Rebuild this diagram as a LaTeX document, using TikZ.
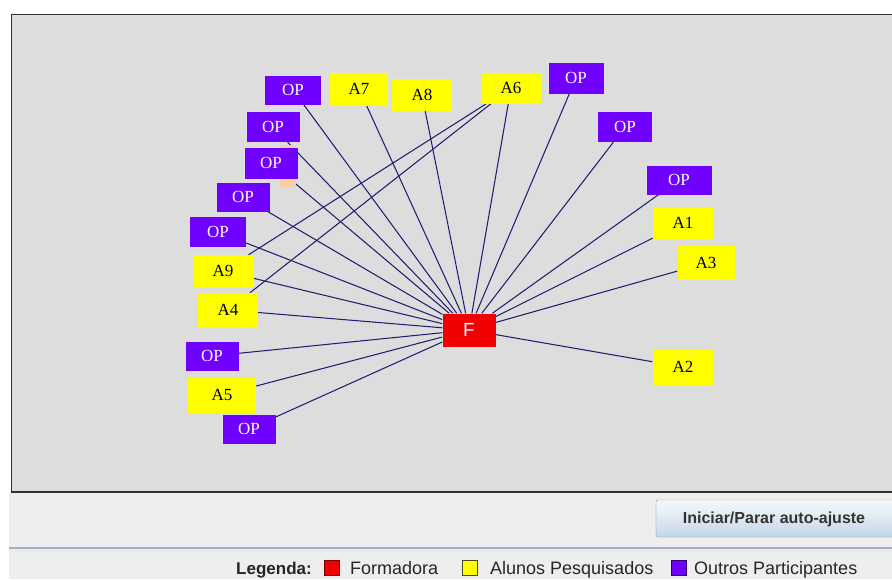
\documentclass[tikz,border=0pt]{standalone}
\usepackage{fontspec}
\setmainfont{Liberation Serif}
\newfontfamily\uisans{Liberation Sans}
\usetikzlibrary{backgrounds}
\pgfdeclarelayer{edgelayer}
\pgfsetlayers{background,edgelayer,main}

\definecolor{panelgray}{RGB}{221,221,221}
\definecolor{stripgray}{RGB}{238,238,238}
\definecolor{framedark}{RGB}{50,50,50}
\definecolor{sepblue}{RGB}{160,176,194}
\definecolor{opviolet}{RGB}{112,0,255}
\definecolor{alyellow}{RGB}{255,255,0}
\definecolor{fmred}{RGB}{240,0,0}
\definecolor{linknavy}{RGB}{30,30,115}
\definecolor{peach}{RGB}{250,205,165}
\definecolor{btnedge}{RGB}{130,146,166}
\definecolor{btntop}{RGB}{246,249,252}
\definecolor{btnbottom}{RGB}{198,214,232}
\definecolor{rededge}{RGB}{120,0,0}
\definecolor{yellowedge}{RGB}{70,70,40}
\definecolor{violetedge}{RGB}{50,0,110}

\begin{document}
\begin{tikzpicture}[x=1pt,y=-1pt,
  box/.style={rectangle, inner sep=0pt, minimum width=54pt, minimum height=30pt,
              font=\fontsize{17}{17}\selectfont},
  op/.style={box, fill=opviolet, text=white},
  al/.style={box, fill=alyellow, text=black},
  fm/.style={box, fill=fmred, text=white!90!pink,
             font=\uisans\fontsize{19}{19}\selectfont},
  link/.style={draw=linknavy, line width=1.05pt},
  legtext/.style={anchor=base west, inner sep=0pt, text=black!85,
                  font=\uisans\fontsize{18}{18}\selectfont},
  legsq/.style={rectangle, inner sep=0pt, minimum size=15pt, line width=0.8pt},
  button/.style={rectangle, rounded corners=2pt, draw=btnedge,
                 top color=btntop, bottom color=btnbottom,
                 minimum width=238pt, minimum height=37pt, inner sep=0pt},
]
\useasboundingbox (0,0) rectangle (892,579);

% window background, graph panel and bottom strip
\begin{scope}[on background layer]
  \fill[white] (0,0) rectangle (892,579);
  \fill[stripgray] (9,492) rectangle (892,579);
  \fill[panelgray] (11,14) rectangle (892,492);
  \draw[framedark, line width=1.5pt] (892,14.5) -- (11.5,14.5) -- (11.5,492) -- (892,492);
  \draw[sepblue, line width=2pt] (9,547.5) -- (892,547.5);
  \draw[white!70!sepblue, line width=1pt] (9,550) -- (892,550);
\end{scope}

% hidden node peeking out behind an OP box
\fill[peach] (280,145) rectangle (296,187);

% central node
\node[fm, minimum width=53pt, minimum height=33pt] (f) at (469,330) {F};

% upper arc
\node[op, minimum width=56pt, minimum height=29pt] (op1) at (293,90) {OP};
\node[al, minimum width=58pt, minimum height=33pt] (a7) at (359,89) {A7};
\node[al, minimum width=60pt, minimum height=32pt] (a8) at (422,95) {A8};
\node[al, minimum width=60pt, minimum height=31pt] (a6) at (511,88) {A6};
\node[op, minimum width=55pt, minimum height=31pt] (op8) at (576,78) {OP};
\node[op, minimum width=54pt, minimum height=30pt] (op9) at (625,127) {OP};
\node[op, minimum width=65pt, minimum height=29pt] (op10) at (679,180) {OP};

% right side
\node[al, minimum width=60pt, minimum height=31pt] (a1) at (683,223) {A1};
\node[al, minimum width=57pt, minimum height=34pt] (a3) at (706,263) {A3};
\node[al, minimum width=61pt, minimum height=35pt] (a2) at (683,367) {A2};

% left side
\node[op, minimum width=53pt, minimum height=30pt] (op2) at (273,127) {OP};
\node[op, minimum width=53pt, minimum height=31pt] (op3) at (271,163) {OP};
\node[op, minimum width=53pt, minimum height=29pt] (op4) at (243,197) {OP};
\node[op, minimum width=56pt, minimum height=30pt] (op5) at (218,232) {OP};
\node[al, minimum width=61pt, minimum height=32pt] (a9) at (223,271) {A9};
\node[al, minimum width=60pt, minimum height=34pt] (a4) at (228,310) {A4};
\node[op, minimum width=53pt, minimum height=29pt] (op6) at (212,356) {OP};
\node[al, minimum width=68pt, minimum height=35pt] (a5) at (222,395) {A5};
\node[op, minimum width=53pt, minimum height=29pt] (op7) at (249,429) {OP};

% connections
\begin{pgfonlayer}{edgelayer}
  \foreach \n in {op1,a7,a8,a6,op8,op9,op10,a1,a3,a2,op2,op3,op4,op5,a9,a4,op6,a5,op7}
    \draw[link] (\n) -- (f);
  \draw[link] (a6) -- (a9);
  \draw[link] (a6) -- (a4);
\end{pgfonlayer}

% control button
\node[button] (btn) at (775,518.5) {};
\node[inner sep=0pt, text=black!80, font=\uisans\bfseries\fontsize{16}{16}\selectfont] (btntext) at (774,519) {Iniciar/Parar auto-ajuste};

% legend
\node[legtext, font=\uisans\bfseries\fontsize{17}{17}\selectfont] (legtitle) at (236,574) {Legenda:};
\node[legsq, fill=fmred, draw=rededge] (sqf) at (332,567.5) {};
\node[legtext] (lf) at (350,574) {Formadora};
\node[legsq, fill=alyellow, draw=yellowedge] (sqa) at (470,567.5) {};
\node[legtext] (la) at (490,574) {Alunos Pesquisados};
\node[legsq, fill=opviolet, draw=violetedge] (sqo) at (679,567.5) {};
\node[legtext] (lo) at (694,574) {Outros Participantes};
\end{tikzpicture}
\end{document}
